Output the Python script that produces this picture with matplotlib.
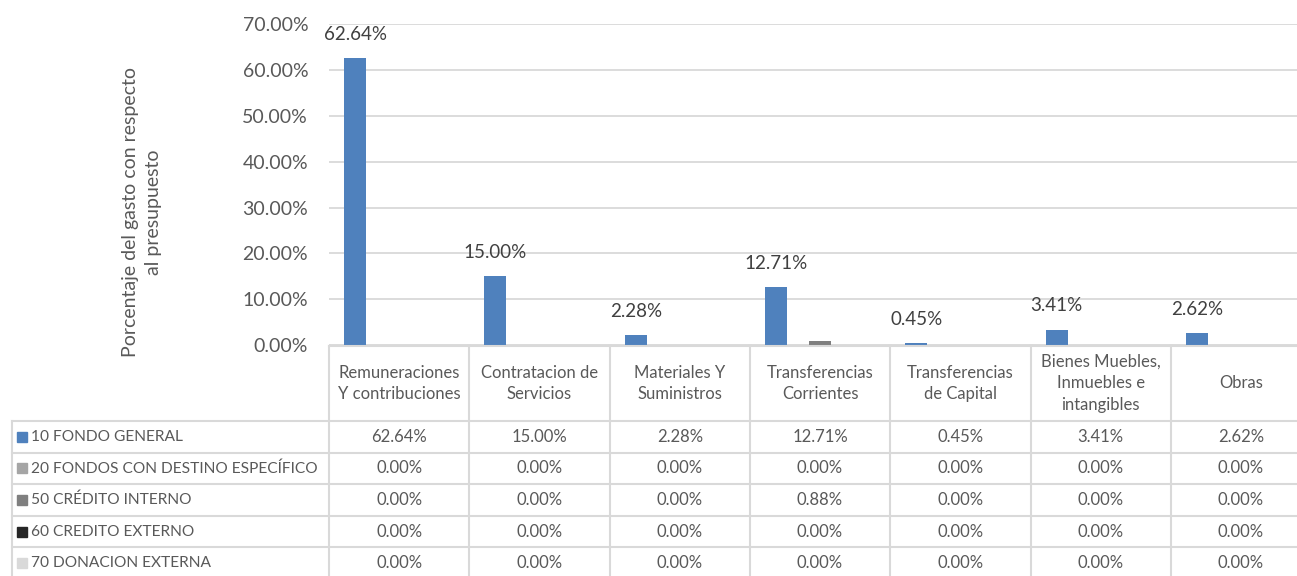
import numpy as np
import matplotlib as mpl
import matplotlib.pyplot as plt
import matplotlib.transforms as mtransforms
from matplotlib.lines import Line2D
from matplotlib.patches import Rectangle

mpl.rcParams['font.family'] = ['Lato', 'DejaVu Sans']

categories = ['Remuneraciones\nY contribuciones', 'Contratacion de\nServicios',
              'Materiales Y\nSuministros', 'Transferencias\nCorrientes',
              'Transferencias\nde Capital', 'Bienes Muebles,\nInmuebles e\nintangibles',
              'Obras']
series_names = ['10 FONDO GENERAL', '20 FONDOS CON DESTINO ESPECÍFICO',
                '50 CRÉDITO INTERNO', '60 CREDITO EXTERNO', '70 DONACION EXTERNA']
fondo_general = [62.64, 15.00, 2.28, 12.71, 0.45, 3.41, 2.62]
destino_especifico = [0.00, 0.00, 0.00, 0.00, 0.00, 0.00, 0.00]
credito_interno = [0.00, 0.00, 0.00, 0.88, 0.00, 0.00, 0.00]
credito_externo = [0.00, 0.00, 0.00, 0.00, 0.00, 0.00, 0.00]
donacion_externa = [0.00, 0.00, 0.00, 0.00, 0.00, 0.00, 0.00]
series = [fondo_general, destino_especifico, credito_interno, credito_externo, donacion_externa]
colors = ['#4F81BD', '#A5A5A5', '#7F7F7F', '#262626', '#D9D9D9']

W, H = 1297, 576
fig = plt.figure(figsize=(W / 100, H / 100), dpi=100)

# plot area in pixels (the last column runs past the right edge)
x0, cat_w = 329, 140.3
y_top, y_zero = 24, 345.2
ax = fig.add_axes([x0 / W, 1 - y_zero / H, 7 * cat_w / W, (y_zero - y_top) / H])

grid_c = '#D9D9D9'
text_c = '#595959'
n = len(series)
bar_w = 0.784 / n
xc = np.arange(len(categories)) + 0.5

for i, (vals, c) in enumerate(zip(series, colors)):
    pos = xc - 0.392 + bar_w * (i + 0.5)
    ax.bar(pos, vals, width=bar_w, color=c, zorder=3)
    if i == 0:
        for p, v in zip(pos, vals):
            ax.annotate(f'{v:.2f}%', (p, v), xytext=(0, 17), textcoords='offset points',
                        ha='center', va='center', fontsize=13.5, color='#404040')

ax.set_xlim(0, 7)
ax.set_ylim(0, 70)
ax.set_yticks(np.arange(0, 71, 10))
ax.set_yticklabels([f'{t:.2f}%' for t in np.arange(0, 71, 10)], fontsize=14, color=text_c)
ax.tick_params(axis='y', length=0, pad=15)
ax.set_xticks([])
ax.grid(axis='y', color=grid_c, linewidth=1.3, zorder=0)
for s in ax.spines.values():
    s.set_visible(False)

fig.text(142 / W, 1 - 212 / H, 'Porcentaje del gasto con respecto\nal presupuesto',
         rotation=90, ha='center', va='center', fontsize=14, color=text_c,
         multialignment='center', linespacing=1.4)

# data table below the axis
blend = mtransforms.blended_transform_factory(ax.transData, fig.transFigure)
fy = lambda py: 1 - py / H
header_top, header_bot = 346, 421
row_h = 31.6
row_lines = [header_bot + row_h * k for k in range(6)]
left_px = 12

def fline(xs, ys, trans):
    fig.add_artist(Line2D(xs, ys, transform=trans, color=grid_c, linewidth=1.5))

# horizontal lines
fline([0, 7], [fy(header_top)] * 2, blend)
for ry in row_lines[:5]:
    fline([left_px / W, 1], [fy(ry)] * 2, fig.transFigure)
# vertical lines
for k in range(8):
    fline([k, k], [fy(header_top), 0], blend)
fline([left_px / W, left_px / W], [fy(header_bot), 0], fig.transFigure)

for x, lab in zip(xc, categories):
    fig.text(x, fy((header_top + header_bot) / 2), lab, transform=blend, ha='center',
             va='center', fontsize=12, color=text_c, linespacing=1.45, multialignment='center')

for r, (name, vals, c) in enumerate(zip(series_names, series, colors)):
    cy = fy(row_lines[r] + row_h / 2)
    fig.add_artist(Rectangle((17 / W, cy - 5 / H), 10 / W, 10 / H,
                             transform=fig.transFigure, color=c))
    fig.text(31 / W, cy, name, ha='left', va='center', fontsize=11.2, color=text_c)
    for x, v in zip(xc, vals):
        fig.text(x, cy, f'{v:.2f}%', transform=blend, ha='center', va='center',
                 fontsize=12, color=text_c)

fig.savefig('out.png', dpi=100)
